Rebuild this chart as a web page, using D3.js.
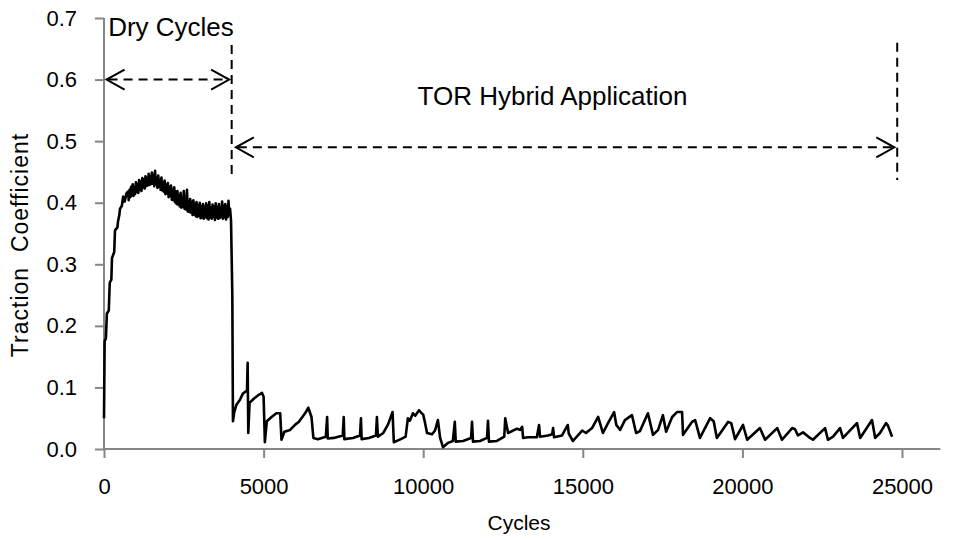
<!DOCTYPE html>
<html>
<head>
<meta charset="utf-8">
<script src="https://cdn.jsdelivr.net/npm/d3@7"></script>
<style>
  body { margin: 0; background: #fff; }
  svg { display: block; }
  text { font-family: "Liberation Sans", sans-serif; fill: #000; }
  .axis path, .axis line { stroke: #868686; stroke-width: 2; }
  .axis text { font-size: 22px; }
</style>
</head>
<body>
<svg></svg>
<script>
// [cycles, traction coefficient]
const dryReadings = [
  [0, 0.05], [20, 0.175], [60, 0.18], [90, 0.22], [150, 0.225], [180, 0.27], [230, 0.275],
  [250, 0.31], [320, 0.32], [345, 0.355], [420, 0.36], [440, 0.37], [480, 0.38], [500, 0.39],
  [560, 0.395], [600, 0.41], [650, 0.402], [700, 0.415],
  [750, 0.418], [775, 0.404], [800, 0.421], [825, 0.409], [850, 0.426], [875, 0.412], [900, 0.43],
  [925, 0.411], [950, 0.425], [975, 0.414], [1000, 0.433], [1025, 0.418], [1050, 0.43], [1075, 0.416],
  [1100, 0.437], [1125, 0.421], [1150, 0.434], [1175, 0.419], [1200, 0.44], [1225, 0.425], [1250, 0.438],
  [1275, 0.423], [1300, 0.443], [1325, 0.427], [1350, 0.44], [1375, 0.428], [1400, 0.447], [1425, 0.429],
  [1450, 0.443], [1475, 0.43], [1500, 0.449], [1525, 0.431], [1550, 0.445], [1575, 0.427], [1600, 0.452],
  [1625, 0.43], [1650, 0.441], [1675, 0.424], [1700, 0.444], [1725, 0.426], [1750, 0.437], [1775, 0.421],
  [1800, 0.441], [1825, 0.42], [1850, 0.433], [1875, 0.418], [1900, 0.436], [1925, 0.414], [1950, 0.429],
  [1975, 0.415], [2000, 0.432], [2025, 0.409], [2050, 0.426], [2075, 0.411], [2100, 0.428], [2125, 0.405],
  [2150, 0.421], [2175, 0.404], [2200, 0.425], [2225, 0.401], [2250, 0.418], [2275, 0.398], [2300, 0.419],
  [2325, 0.397], [2350, 0.412], [2375, 0.394], [2400, 0.416], [2425, 0.392], [2450, 0.408], [2475, 0.393],
  [2500, 0.419], [2525, 0.39], [2550, 0.405], [2575, 0.389], [2600, 0.421], [2625, 0.386], [2650, 0.402],
  [2675, 0.385], [2700, 0.406], [2725, 0.384], [2750, 0.401], [2775, 0.38], [2800, 0.404], [2825, 0.381],
  [2850, 0.398], [2875, 0.378], [2900, 0.401], [2925, 0.377], [2950, 0.396], [2975, 0.379], [3000, 0.4],
  [3025, 0.375], [3050, 0.394], [3075, 0.376], [3100, 0.398], [3125, 0.374], [3150, 0.393], [3175, 0.377],
  [3200, 0.399], [3225, 0.375], [3250, 0.395], [3275, 0.373], [3300, 0.401], [3325, 0.376], [3350, 0.392],
  [3375, 0.374], [3400, 0.397], [3425, 0.377], [3450, 0.394], [3475, 0.372], [3500, 0.399], [3525, 0.376],
  [3550, 0.393], [3575, 0.374], [3600, 0.398], [3625, 0.375], [3650, 0.392], [3675, 0.377], [3700, 0.402],
  [3725, 0.374], [3750, 0.395], [3775, 0.376], [3800, 0.398], [3825, 0.373], [3850, 0.394], [3875, 0.377],
  [3900, 0.403], [3925, 0.38], [3950, 0.39], [3980, 0.37], [4020, 0.25], [4040, 0.045]
];
const torReadings = [
  [4080, 0.06], [4150, 0.072], [4260, 0.08], [4350, 0.09], [4480, 0.095], [4500, 0.14], [4520, 0.026],
  [4560, 0.075], [4700, 0.082], [4850, 0.088], [4950, 0.091], [5000, 0.085], [5040, 0.011], [5100, 0.045],
  [5250, 0.052], [5400, 0.058], [5520, 0.058], [5560, 0.015], [5650, 0.028], [5830, 0.031], [6000, 0.04],
  [6100, 0.044], [6300, 0.058], [6400, 0.067], [6500, 0.052], [6560, 0.018], [6700, 0.016], [6950, 0.02],
  [6990, 0.052], [7010, 0.017], [7200, 0.018], [7480, 0.022], [7510, 0.052], [7530, 0.016], [7800, 0.018],
  [8020, 0.022], [8050, 0.05], [8070, 0.016], [8300, 0.018], [8520, 0.022], [8550, 0.052], [8580, 0.02],
  [8750, 0.026], [8900, 0.04], [9040, 0.06], [9080, 0.011], [9300, 0.016], [9450, 0.02], [9520, 0.05],
  [9580, 0.046], [9680, 0.058], [9750, 0.054], [9870, 0.063], [9950, 0.058], [10000, 0.056], [10060, 0.042],
  [10120, 0.026], [10280, 0.024], [10370, 0.03], [10460, 0.047], [10530, 0.018], [10620, 0.003],
  [10780, 0.01], [10930, 0.013], [10990, 0.044], [11020, 0.012], [11250, 0.013], [11500, 0.018],
  [11530, 0.044], [11560, 0.012], [11780, 0.013], [12000, 0.018], [12030, 0.046], [12060, 0.012],
  [12310, 0.013], [12540, 0.02], [12570, 0.05], [12660, 0.026], [12940, 0.033], [13030, 0.031],
  [13100, 0.036], [13130, 0.018], [13280, 0.019], [13560, 0.019], [13630, 0.039], [13660, 0.02],
  [13910, 0.022], [14040, 0.024], [14070, 0.034], [14100, 0.019], [14350, 0.022], [14530, 0.039],
  [14560, 0.025], [14690, 0.013], [14980, 0.03], [15100, 0.026], [15290, 0.034], [15480, 0.052],
  [15630, 0.026], [15790, 0.042], [15980, 0.06], [16050, 0.039], [16170, 0.031], [16320, 0.047],
  [16540, 0.055], [16670, 0.026], [16790, 0.029], [17040, 0.058], [17200, 0.023], [17360, 0.031],
  [17510, 0.055], [17610, 0.028], [17800, 0.052], [17950, 0.06], [18110, 0.06], [18140, 0.023],
  [18420, 0.044], [18520, 0.047], [18670, 0.018], [18990, 0.05], [19100, 0.045], [19200, 0.018],
  [19550, 0.044], [19650, 0.042], [19770, 0.016], [20020, 0.039], [20150, 0.015], [20550, 0.034],
  [20710, 0.015], [21090, 0.034], [21240, 0.015], [21560, 0.034], [21650, 0.032], [21740, 0.022],
  [21900, 0.027], [22120, 0.018], [22210, 0.015], [22590, 0.034], [22680, 0.015], [22840, 0.02],
  [23060, 0.034], [23150, 0.018], [23590, 0.042], [23690, 0.018], [24060, 0.047], [24160, 0.018],
  [24310, 0.026], [24500, 0.042], [24560, 0.038], [24690, 0.02]
];

const xTicks = [0, 5000, 10000, 15000, 20000, 25000];
const yTicks = [0, 0.1, 0.2, 0.3, 0.4, 0.5, 0.6, 0.7];

// phase boundaries [cycles, top, bottom] and the two spans
const boundaries = [[4000, 0.656, 0.44], [24850, 0.66, 0.437]];
const spans = [
  { label: 'Dry Cycles', from: 80, to: 3920, y: 0.6, labelX: 130, labelY: 0.67, anchor: 'start' },
  { label: 'TOR Hybrid Application', from: 4130, to: 24760, y: 0.49, labelX: 14050, labelY: 0.558, anchor: 'middle' }
];

const width = 957;
const height = 540;

const svg = d3.select('svg')
  .attr('width', width)
  .attr('height', height);

const x = d3.scaleLinear().domain([0, 26200]).range([104, 940.3]);
const y = d3.scaleLinear().domain([0, 0.7]).range([449, 18]);

const data = dryReadings.concat(torReadings);

const yAxis = svg.append('g')
  .attr('class', 'axis')
  .attr('transform', `translate(${x(0)},0)`)
  .call(d3.axisLeft(y).tickValues(yTicks).tickSize(9).tickPadding(18).tickFormat(d3.format('.1f')));
yAxis.select('.domain').attr('d', `M0,${y(0.7)}V${y(0)}`);

const xAxis = svg.append('g')
  .attr('class', 'axis')
  .attr('transform', `translate(0,${y(0)})`)
  .call(d3.axisBottom(x).tickValues(xTicks).tickSize(9).tickPadding(20).tickFormat(d3.format('d')));
xAxis.select('.domain').attr('d', `M${x(0)},0H${x(26200)}`);

svg.append('path')
  .datum(data)
  .attr('fill', 'none')
  .attr('stroke', '#000')
  .attr('stroke-width', 2.6)
  .attr('stroke-linejoin', 'round')
  .attr('d', d3.line().x(d => x(d[0])).y(d => y(d[1])));

svg.selectAll('.boundary')
  .data(boundaries)
  .enter().append('line')
  .attr('class', 'boundary')
  .attr('x1', d => x(d[0]))
  .attr('x2', d => x(d[0]))
  .attr('y1', d => y(d[1]))
  .attr('y2', d => y(d[2]))
  .attr('stroke', '#000')
  .attr('stroke-width', 2)
  .attr('stroke-dasharray', '9,6');

const span = svg.selectAll('.span')
  .data(spans)
  .enter().append('g')
  .attr('class', 'span');

span.append('line')
  .attr('x1', d => x(d.from) + 2)
  .attr('x2', d => x(d.to) - 2)
  .attr('y1', d => y(d.y))
  .attr('y2', d => y(d.y))
  .attr('stroke', '#000')
  .attr('stroke-width', 2)
  .attr('stroke-dasharray', '9,6');

span.append('path')
  .attr('fill', 'none')
  .attr('stroke', '#000')
  .attr('stroke-width', 2)
  .attr('d', d => {
    const a = x(d.from), b = x(d.to), yy = y(d.y);
    return `M${a + 18},${yy - 10}L${a},${yy}L${a + 18},${yy + 10}` +
      `M${b - 18},${yy - 10}L${b},${yy}L${b - 18},${yy + 10}`;
  });

span.append('text')
  .attr('x', d => x(d.labelX))
  .attr('y', d => y(d.labelY))
  .attr('text-anchor', d => d.anchor)
  .style('font-size', '26px')
  .text(d => d.label);

svg.append('text')
  .attr('x', 519)
  .attr('y', 530)
  .attr('text-anchor', 'middle')
  .style('font-size', '21px')
  .text('Cycles');

svg.append('text')
  .attr('transform', 'translate(28,245) rotate(-90)')
  .attr('text-anchor', 'middle')
  .style('font-size', '23px')
  .style('white-space', 'pre')
  .style('letter-spacing', '1px')
  .text('Traction  Coefficient');
</script>
</body>
</html>
